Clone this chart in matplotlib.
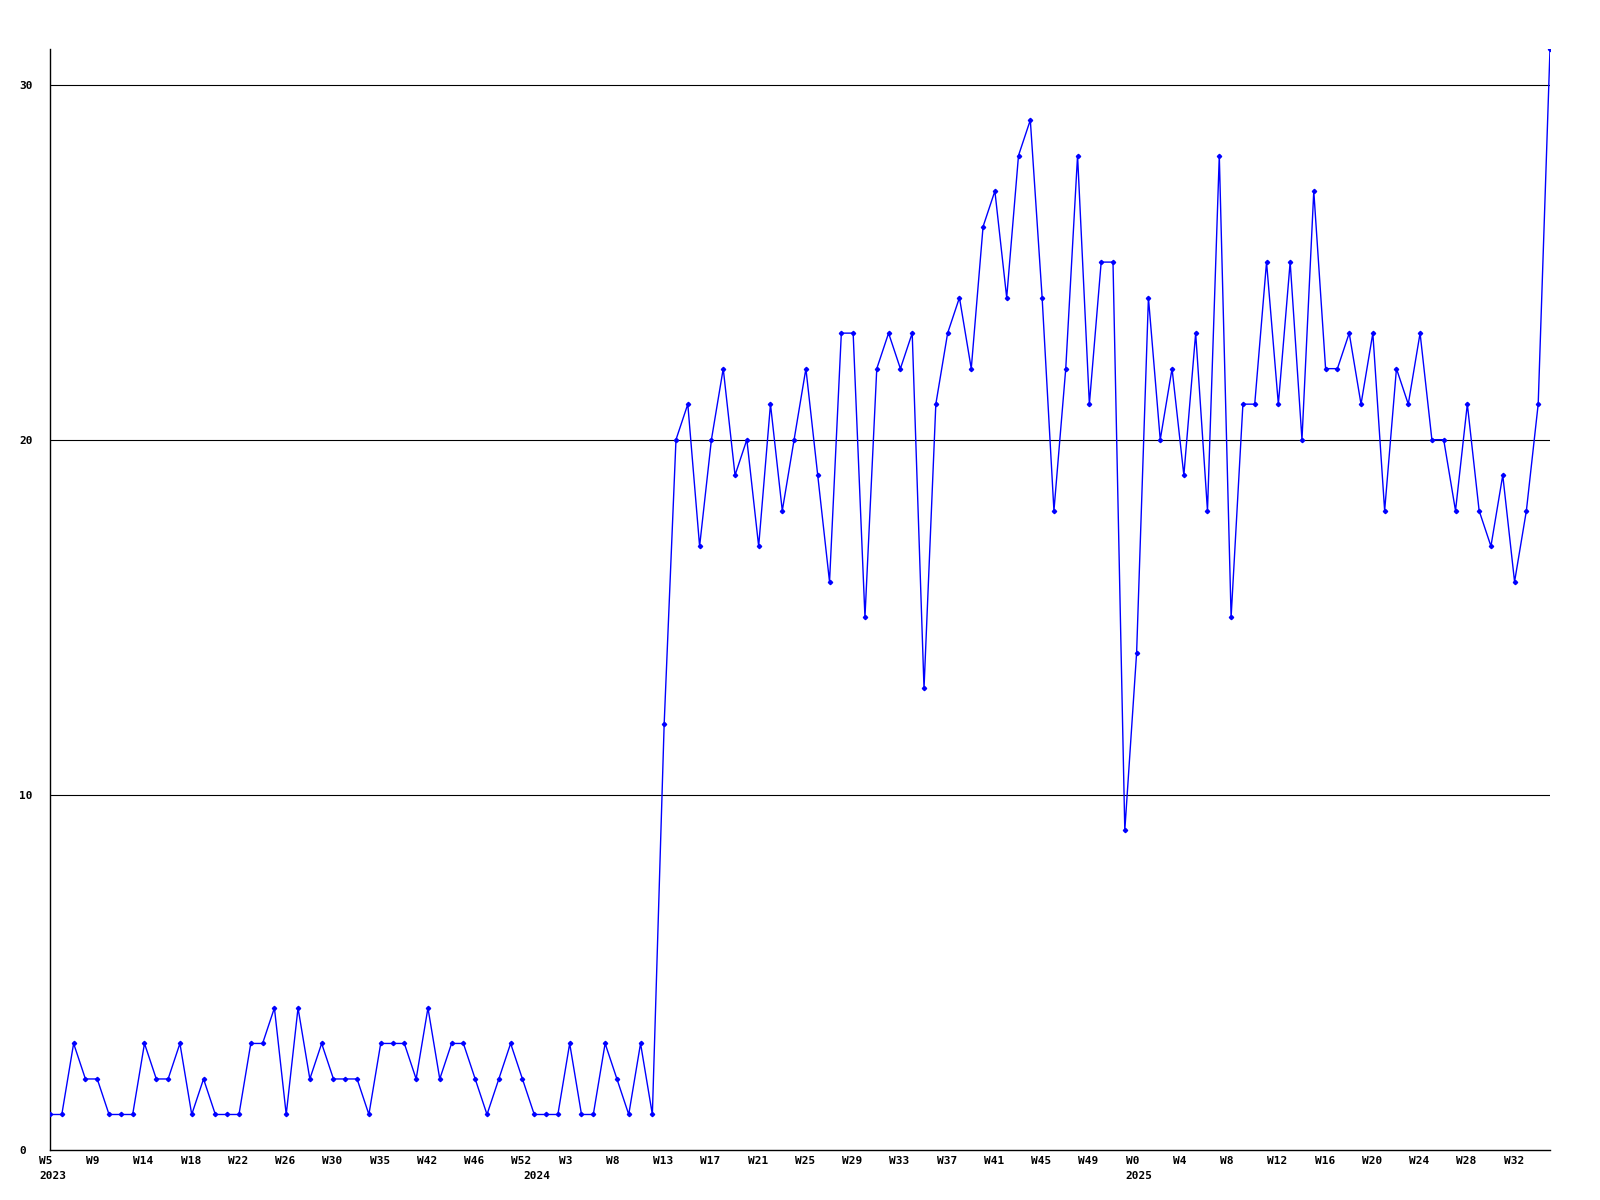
import numpy as np
import matplotlib.pyplot as plt
import matplotlib.transforms as mtransforms

# valores semanales
valores = [1, 1, 3, 2, 2, 1, 1, 1, 3, 2, 2, 3, 1, 2, 1, 1, 1, 3, 3, 4,
           1, 4, 2, 3, 2, 2, 2, 1, 3, 3, 3, 2, 4, 2, 3, 3, 2, 1, 2, 3,
           2, 1, 1, 1, 3, 1, 1, 3, 2, 1, 3, 1, 12, 20, 21, 17, 20, 22, 19, 20,
           17, 21, 18, 20, 22, 19, 16, 23, 23, 15, 22, 23, 22, 23, 13, 21, 23, 24, 22, 26,
           27, 24, 28, 29, 24, 18, 22, 28, 21, 25, 25, 9, 14, 24, 20, 22, 19, 23, 18, 28,
           15, 21, 21, 25, 21, 25, 20, 27, 22, 22, 23, 21, 23, 18, 22, 21, 23, 20, 20, 18,
           21, 18, 17, 19, 16, 18, 21, 31]
semanas = ['W5', 'W9', 'W14', 'W18', 'W22', 'W26', 'W30', 'W35', 'W42', 'W46',
           'W52', 'W3', 'W8', 'W13', 'W17', 'W21', 'W25', 'W29', 'W33', 'W37',
           'W41', 'W45', 'W49', 'W0', 'W4', 'W8', 'W12', 'W16', 'W20', 'W24',
           'W28', 'W32']
anios = ['2023', '2024', '2025']
pos_anios = [0, 41, 92]
ticks_y = [0, 10, 20, 30]

x = np.arange(len(valores))

fig = plt.figure(figsize=(16, 12), dpi=100)
ax = fig.add_axes([50/1600, 1 - 1150/1200, 1500/1600, 1101/1200])

for v in ticks_y[1:]:
    ax.axhline(v, color='black', lw=0.8, zorder=1)
ax.plot(x, valores, '-', color='#0000ff', lw=1.0, marker='D', ms=2.2, zorder=3)

ax.set_xlim(0, len(valores) - 1)
ax.set_ylim(0, max(valores))
for s in ['top', 'right']:
    ax.spines[s].set_visible(False)
for s in ['left', 'bottom']:
    ax.spines[s].set_linewidth(1.0)

fuente = dict(family='DejaVu Sans Mono', weight='bold', size=8)

ax.set_yticks(ticks_y)
ax.set_yticklabels([str(t) for t in ticks_y], **fuente)
ax.tick_params(axis='y', length=0, pad=22)
for lab in ax.get_yticklabels():
    lab.set_horizontalalignment('left')

ax.xaxis.remove_overlapping_locs = False
desplaz = mtransforms.ScaledTranslation(-11/100, 0, fig.dpi_scale_trans)
ax.set_xticks(np.arange(0, 4*len(semanas), 4))
ax.set_xticklabels(semanas, **fuente)
ax.set_xticks(pos_anios, minor=True)
ax.set_xticklabels(anios, minor=True, **fuente)
ax.tick_params(axis='x', which='major', length=0, pad=4)
ax.tick_params(axis='x', which='minor', length=0, pad=15)
for lab in ax.get_xticklabels() + ax.get_xticklabels(minor=True):
    lab.set_horizontalalignment('left')
    lab.set_transform(lab.get_transform() + desplaz)

fig.savefig('out.png')
